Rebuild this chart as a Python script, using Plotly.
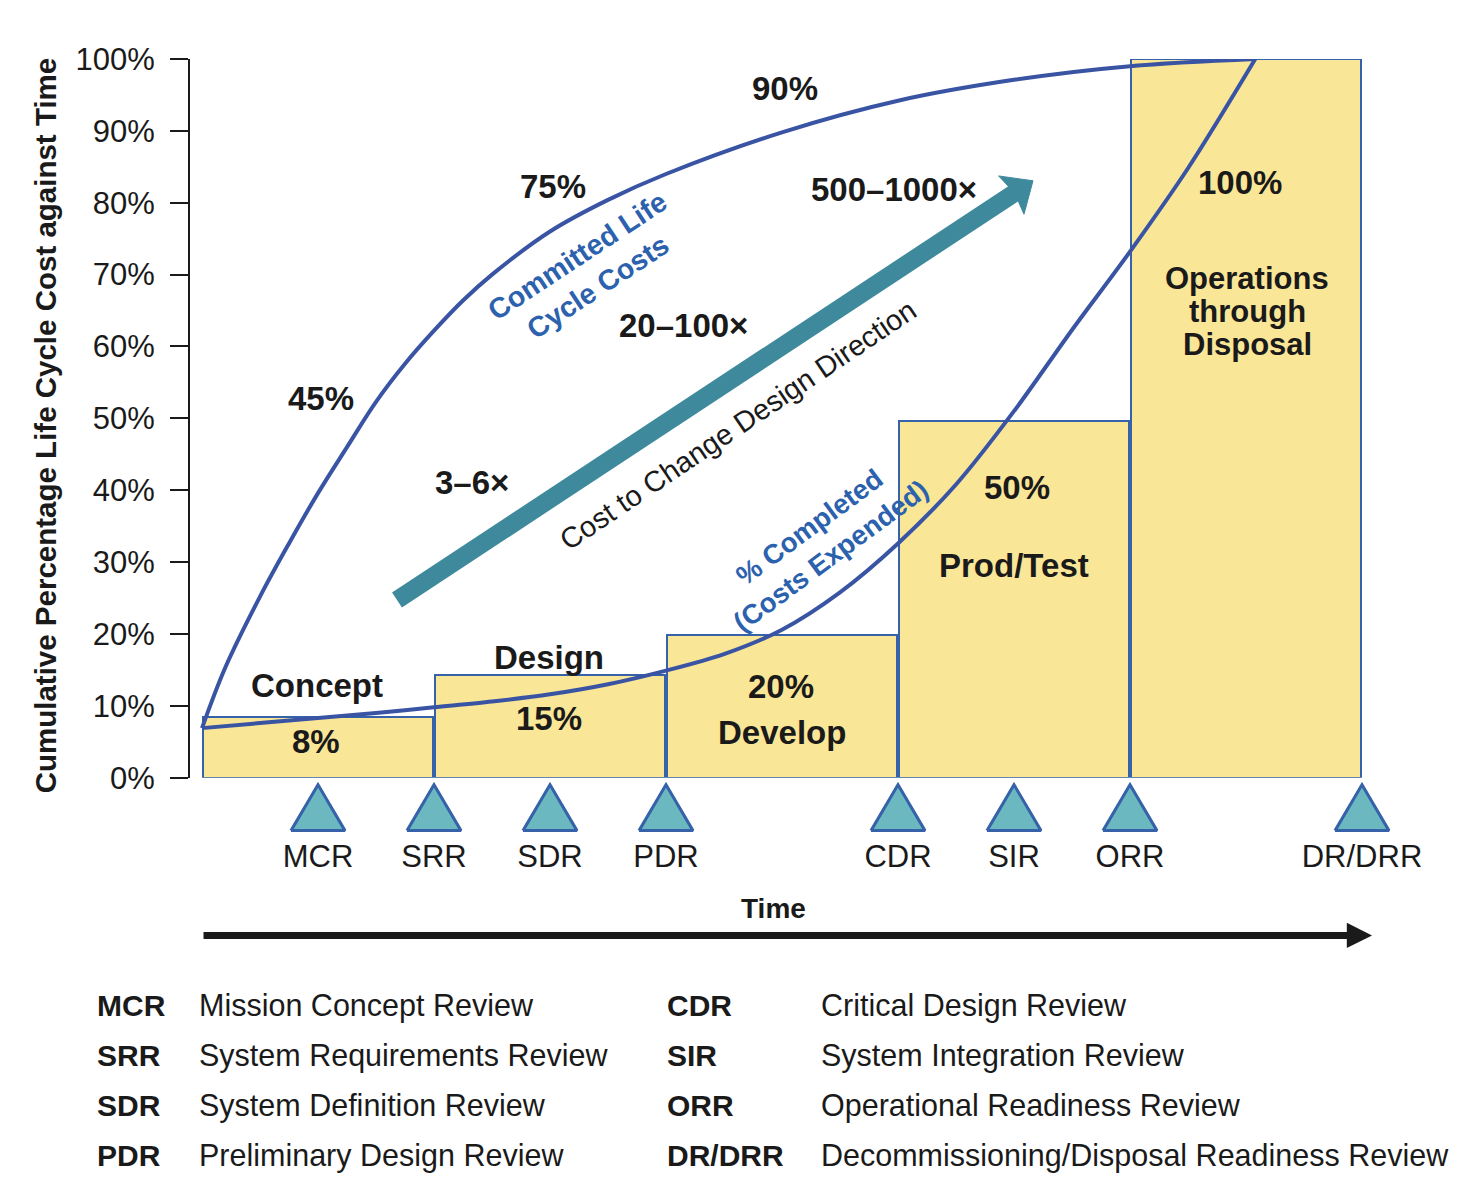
import math
import plotly.graph_objects as go

# ---------------- data ----------------
phase_names = ["Concept", "Design", "Develop", "Prod/Test", "Operations through Disposal"]
phase_start = [0, 1, 2, 3, 4]
phase_end = [1, 2, 3, 4, 5]
phase_pct = [8.5, 14.3, 19.9, 49.7, 100]
phase_pct_labels = ["8%", "15%", "20%", "50%", "100%"]

milestones = ["MCR", "SRR", "SDR", "PDR", "CDR", "SIR", "ORR", "DR/DRR"]
milestone_t = [0.5, 1, 1.5, 2, 3, 3.5, 4, 5]
milestone_names = ["Mission Concept Review", "System Requirements Review",
                   "System Definition Review", "Preliminary Design Review",
                   "Critical Design Review", "System Integration Review",
                   "Operational Readiness Review",
                   "Decommissioning/Disposal Readiness Review"]

committed_t = [0, 0.1, 0.25, 0.375, 0.5, 0.625, 0.75, 0.875, 1.0, 1.125, 1.25, 1.5,
               1.75, 2.0, 2.5, 3.0, 3.5, 4.0, 4.54]
committed_pct = [6.9, 15.3, 25.2, 32.6, 39.6, 46.0, 52.3, 57.6, 62.2, 66.4, 70.0,
                 76.0, 80.4, 84.0, 89.8, 94.2, 97.1, 99.0, 100]

completed_t = [0, 0.25, 0.5, 0.75, 1.0, 1.25, 1.5, 1.75, 2.0, 2.25, 2.5, 2.75, 3.0,
               3.25, 3.5, 3.75, 4.0, 4.25, 4.54]
completed_pct = [6.9, 7.6, 8.3, 9.0, 9.8, 10.6, 11.6, 13.0, 14.9, 17.2, 20.6, 25.8,
                 32.6, 40.8, 51.0, 62.3, 73.2, 84.8, 100]

committed_marks = ["45%", "75%", "90%"]
cost_multipliers = ["3\u20136\u00d7", "20\u2013100\u00d7", "500\u20131000\u00d7"]
y_ticks = [0, 10, 20, 30, 40, 50, 60, 70, 80, 90, 100]

# ---------------- styles ----------------
FONT = "Liberation Sans, Arial, Helvetica, sans-serif"
BLACK = "#1a1a1a"
CURVE = "#3a54a4"
BLUE_TXT = "#2c62ad"
BAR_FILL = "#fae697"
BAR_LINE = "#3562a8"
TEAL = "#3e8a9c"
TRI_FILL = "#6bb8c0"

W, H = 1470, 1192
ML, MR, MT, MB = 190, 50, 59, 0
BOT = H - MB - 16          # observed bottom of the plotting area in the browser
X0PX, XSC = 202, 232.0     # px of t=0, px per time unit
Y0PX, YSC = 779, 7.2       # px of 0 %, px per %
PLOT_H = BOT - MT
PLOT_W = W - ML - MR


def X(px):
    return (px - X0PX) / XSC


def Y(py):
    return (Y0PX - py) / YSC


def PX(px):
    return (px - ML) / PLOT_W


def PY(py):
    return (BOT - py) / PLOT_H


fig = go.Figure()

# phase bars
centers = [(s + e) / 2 for s, e in zip(phase_start, phase_end)]
widths = [(e - s) * 0.99 for s, e in zip(phase_start, phase_end)]
fig.add_trace(go.Bar(x=centers, y=phase_pct, width=widths,
                     marker=dict(color=BAR_FILL, line=dict(color=BAR_LINE, width=2)),
                     hoverinfo="skip", showlegend=False))

# curves
fig.add_trace(go.Scatter(x=committed_t, y=committed_pct, mode="lines",
                         line=dict(color=CURVE, width=4, shape="spline", smoothing=1.0),
                         showlegend=False, hoverinfo="skip"))
fig.add_trace(go.Scatter(x=completed_t, y=completed_pct, mode="lines",
                         line=dict(color=CURVE, width=4, shape="spline", smoothing=0.9),
                         showlegend=False, hoverinfo="skip"))

# milestone triangles (lower panel y2, same % units)
half_w = 27 / XSC
top_y, base_y = Y(786), Y(832)
tx, ty = [], []
for t in milestone_t:
    tx += [t - half_w, t, t + half_w, t - half_w, None]
    ty += [base_y, top_y, base_y, base_y, None]
fig.add_trace(go.Scatter(x=tx, y=ty, yaxis="y2", mode="lines", fill="toself",
                         fillcolor=TRI_FILL, line=dict(color=BAR_LINE, width=3),
                         showlegend=False, hoverinfo="skip"))
fig.add_trace(go.Scatter(x=milestone_t, y=[Y(861)] * len(milestone_t), yaxis="y2",
                         mode="text", text=milestones, cliponaxis=False,
                         textfont=dict(family=FONT, size=31, color=BLACK),
                         showlegend=False, hoverinfo="skip"))

# teal "cost to change" arrow: shaft + notched head (pixel geometry -> data)
tail = (397, 601)
tip = (1033, 181)
dx, dy = tip[0] - tail[0], tip[1] - tail[1]
L = math.hypot(dx, dy)
ux, uy = dx / L, dy / L
px_, py_ = -uy, ux
head_len, head_half, notch = 26, 23, 4
back = (tip[0] - head_len * ux, tip[1] - head_len * uy)
b1 = (back[0] + head_half * px_, back[1] + head_half * py_)
b2 = (back[0] - head_half * px_, back[1] - head_half * py_)
nn = (back[0] + notch * ux, back[1] + notch * uy)
shaft_end = (back[0] + (notch + 2) * ux, back[1] + (notch + 2) * uy)
shapes = [dict(type="line", xref="x", yref="y", x0=X(tail[0]), y0=Y(tail[1]),
               x1=X(shaft_end[0]), y1=Y(shaft_end[1]),
               line=dict(color=TEAL, width=18), layer="above")]
head_pts = [tip, b1, nn, b2, tip]
fig.add_trace(go.Scatter(x=[X(p[0]) for p in head_pts], y=[Y(p[1]) for p in head_pts],
                         mode="lines", fill="toself", fillcolor=TEAL,
                         line=dict(color=TEAL, width=1),
                         showlegend=False, hoverinfo="skip"))

ann = []


def txt(text, px, py, size=33, bold=True, color=BLACK, angle=0, ref="y"):
    t = f"<b>{text}</b>" if bold else text
    ann.append(dict(text=t, x=X(px), y=Y(py), xref="x", yref=ref, showarrow=False,
                    textangle=angle, xanchor="center", yanchor="middle",
                    font=dict(family=FONT, size=size, color=color)))


# phase labels
name_pos = [(317, 687), (549, 659), (782, 734), (1014, 566)]
pct_pos = [(316, 743), (549, 720), (781, 688), (1017, 488), (1240, 183)]
for name, (px, py) in zip(phase_names[:4], name_pos):
    txt(name, px, py)
for lab, (px, py) in zip(phase_pct_labels, pct_pos):
    txt(lab, px, py)
for i, word in enumerate(["Operations", "through", "Disposal"]):
    txt(word, 1247, 279 + 33 * i, size=31)

# committed marks and multipliers
for lab, (px, py) in zip(committed_marks, [(321, 399), (553, 187), (785, 89)]):
    txt(lab, px, py)
for lab, (px, py) in zip(cost_multipliers, [(472, 483), (683, 326), (894, 190)]):
    txt(lab, px, py)

# rotated texts
txt("Committed Life<br>Cycle Costs", 587, 272, size=28.5, color=BLUE_TXT, angle=-33.5)
txt("Cost to Change Design Direction", 738, 426, size=29, bold=False, angle=-34)
txt("% Completed<br>(Costs Expended)", 820, 542, size=27.5, color=BLUE_TXT, angle=-36.5)

# time arrow
ann.append(dict(text="", x=X(1372), y=Y(937), ax=X(202), ay=Y(937),
                xref="x", yref="y2", axref="x", ayref="y2", showarrow=True,
                arrowhead=2, arrowsize=0.72, arrowwidth=7, arrowcolor=BLACK, standoff=0))
txt("Time", 773, 910, size=28, ref="y2")

# y axis title
ann.append(dict(text="<b>Cumulative Percentage Life Cycle Cost against Time</b>",
                x=PX(45), y=PY(426), xref="paper", yref="paper", showarrow=False,
                textangle=-90, xanchor="center", yanchor="middle",
                font=dict(family=FONT, size=29.5, color=BLACK)))

# bottom legend
cols = [(95, 197), (665, 819)]
for i, (ab, nm) in enumerate(zip(milestones, milestone_names)):
    c = cols[i // 4]
    py = 1007 + 50 * (i % 4)
    ann.append(dict(text=f"<b>{ab}</b>", x=PX(c[0]), y=PY(py), xref="paper", yref="paper",
                    showarrow=False, xanchor="left", yanchor="middle",
                    font=dict(family=FONT, size=30, color=BLACK)))
    ann.append(dict(text=nm, x=PX(c[1]), y=PY(py), xref="paper", yref="paper",
                    showarrow=False, xanchor="left", yanchor="middle",
                    font=dict(family=FONT, size=30.5, color=BLACK)))

dom_split = (BOT - Y0PX) / PLOT_H

fig.update_layout(
    width=W, height=H,
    margin=dict(l=ML, r=MR, t=MT, b=MB),
    paper_bgcolor="white", plot_bgcolor="rgba(0,0,0,0)",
    showlegend=False,
    bargap=0,
    annotations=ann,
    shapes=shapes,
    xaxis=dict(range=[X(ML), X(W - MR)], visible=False, anchor="y2"),
    yaxis=dict(domain=[dom_split, 1], range=[0, 100], tickvals=y_ticks,
               ticktext=[f"{v}%" for v in y_ticks], ticks="outside", ticklen=18,
               tickwidth=2, tickcolor=BLACK, showline=True, linecolor=BLACK,
               linewidth=2, showgrid=False, zeroline=False, ticklabelstandoff=9,
               tickfont=dict(family=FONT, size=31, color=BLACK), anchor="x"),
    yaxis2=dict(domain=[0, dom_split], range=[Y(BOT), 0], visible=False,
                anchor="x"),
)

fig.write_html("out.html")
